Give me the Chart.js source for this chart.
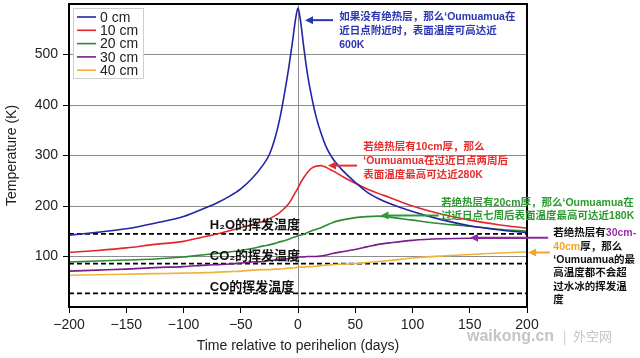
<!DOCTYPE html>
<html>
<head>
<meta charset="utf-8">
<script src="https://cdn.jsdelivr.net/npm/chart.js@4"></script>
<style>
  body { margin: 0; background: #fff; }
  canvas { display: block; }
</style>
</head>
<body>
<canvas id="tempChart" width="640" height="358"></canvas>
<script>
// data
const days = [-200, -175, -150, -125, -100, -80, -70, -60, -50, -40, -30, -25, -20, -16, -12, -8, -5, -2, 0, 2, 5, 8, 12, 16, 20, 25, 30, 40, 50, 60, 70, 80, 100, 125, 150, 175, 200];
const temp0cm = [142, 148, 155, 166, 179, 197, 207, 219, 234, 255, 283, 302, 335, 372, 420, 475, 522, 572, 592, 570, 515, 465, 415, 375, 345, 315, 295, 268, 247, 228, 215, 205, 189, 173, 161, 153, 147];
const temp10cm = [108, 112, 117, 124, 130, 140, 145, 151, 157, 163, 170, 175, 181, 187, 195, 205, 216, 228, 236, 245, 256, 266, 275, 279, 280, 276, 270, 257, 245, 234, 225, 217, 200, 184, 172, 163, 156];
const temp20cm = [89, 91, 93, 95, 99, 104, 106, 109, 112, 116, 121, 123, 126, 129, 131, 134, 137, 139, 141, 142, 144, 147, 151, 154, 157, 162, 167, 173, 177, 179, 180, 178, 172, 165, 160, 154, 150];
const temp30cm = [71, 73, 75, 78, 80, 83, 84, 85, 87, 89, 90, 92, 93, 94, 95, 96, 97, 98, 99, 99, 99, 100, 100, 100, 101, 103, 106, 110, 114, 119, 124, 127, 132, 135, 136, 136, 136];
const temp40cm = [63, 64, 65, 66, 67, 68, 69, 70, 71, 73, 74, 74, 75, 75, 76, 77, 77, 78, 79, 79, 79, 80, 80, 81, 82, 83, 84, 85, 86, 88, 90, 92, 97, 101, 104, 107, 109];
const seriesLabels = ["0 cm", "10 cm", "20 cm", "30 cm", "40 cm"];
const seriesColors = ["#2323a6", "#e3262b", "#2f8a34", "#7a1d8c", "#f0b23a"];
const volatileNames = ["H₂O的挥发温度", "CO₂的挥发温度", "CO的挥发温度"];
const volatileTemps = [145, 86, 27];
const xRange = [-200, 200];
const xTicks = [-200, -150, -100, -50, 0, 50, 100, 150, 200];
const yTicks = [100, 200, 300, 400, 500];

const NOTE_FONT = 'bold 10.5px "Liberation Sans", "Noto Sans CJK SC", sans-serif';
Chart.defaults.font.family = '"Liberation Sans", Arial, sans-serif';
Chart.defaults.color = "#222";

const allSeries = [temp0cm, temp10cm, temp20cm, temp30cm, temp40cm];
const curveSets = allSeries.map((vals, i) => ({
  label: seriesLabels[i],
  data: days.map((d, j) => ({ x: d, y: vals[j] })),
  borderColor: seriesColors[i],
  borderWidth: 1.6,
  pointRadius: 0,
  fill: false,
  cubicInterpolationMode: "monotone"
}));
const dashSets = volatileTemps.map((t, i) => ({
  label: volatileNames[i],
  data: xRange.map(d => ({ x: d, y: t })),
  borderColor: "#000",
  borderWidth: 1.8,
  borderDash: [5, 3],
  pointRadius: 0
}));

// callouts, in data units
const notes = [
  { x: 36, y: 574, lh: 14, lines: [
    [["如果没有绝热层，那么‘Oumuamua在", "#2b35b0"]],
    [["近日点附近时，表面温度可高达近", "#2b35b0"]],
    [["600K", "#2b35b0"]]] },
  { x: 57, y: 316, lh: 14, lines: [
    [["若绝热层有10cm厚，那么", "#e2302f"]],
    [["‘Oumuamua在过近日点两周后", "#e2302f"]],
    [["表面温度最高可达近280K", "#e2302f"]]] },
  { x: 125, y: 205, lh: 12.5, lines: [
    [["若绝热层有20cm厚，那么‘Oumuamua在", "#2c9a30"]],
    [["过近日点七周后表面温度最高可达近180K", "#2c9a30"]]] },
  { x: 223, y: 146, lh: 13.4, lines: [
    [["若绝热层有", "#111"], ["30cm-", "#9a30a8"]],
    [["40cm", "#f0a528"], ["厚，那么", "#111"]],
    [["‘Oumuamua的最", "#111"]],
    [["高温度都不会超", "#111"]],
    [["过水冰的挥发温", "#111"]],
    [["度", "#111"]]] }
];
const arrows = [
  { from: [30.6, 568], to: [6.1, 568], color: "#2b35b0" },
  { from: [51.6, 280], to: [26.2, 280], color: "#e2302f" },
  { from: [123, 181], to: [72, 181], color: "#2c9a30" },
  { from: [218.5, 137], to: [150.3, 137], color: "#8a2a9c" },
  { from: [220, 108], to: [201, 108], color: "#f0a528" }
];

function drawArrow(ctx, x1, y1, x2, y2, color) {
  ctx.strokeStyle = color;
  ctx.fillStyle = color;
  ctx.lineWidth = 2;
  ctx.beginPath();
  ctx.moveTo(x1, y1);
  ctx.lineTo(x2 + 6, y2);
  ctx.stroke();
  ctx.beginPath();
  ctx.moveTo(x2, y2);
  ctx.lineTo(x2 + 8, y2 - 4);
  ctx.lineTo(x2 + 8, y2 + 4);
  ctx.closePath();
  ctx.fill();
}

const decorations = {
  id: "decorations",
  afterDraw(chart) {
    const { ctx, chartArea: a, scales: { x, y } } = chart;
    ctx.save();

    // frame
    ctx.strokeStyle = "#000";
    ctx.lineWidth = 2;
    ctx.strokeRect(a.left, a.top, a.right - a.left, a.bottom - a.top);

    // legend box
    const lx = a.left + 4, ly = a.top + 4;
    ctx.fillStyle = "#fff";
    ctx.fillRect(lx, ly, 70, 70);
    ctx.strokeStyle = "#cfcfcf";
    ctx.lineWidth = 1;
    ctx.strokeRect(lx + 0.5, ly + 0.5, 70, 70);
    ctx.font = '14px "Liberation Sans", Arial, sans-serif';
    ctx.textBaseline = "middle";
    seriesLabels.forEach((lab, i) => {
      const ry = ly + 9 + i * 13.3;
      ctx.strokeStyle = seriesColors[i];
      ctx.lineWidth = 1.6;
      ctx.beginPath();
      ctx.moveTo(lx + 4, ry);
      ctx.lineTo(lx + 23, ry);
      ctx.stroke();
      ctx.fillStyle = "#222";
      ctx.fillText(lab, lx + 27, ry + 1);
    });

    // volatile labels
    ctx.font = 'bold 13px "Liberation Sans", "Noto Sans CJK SC", sans-serif';
    ctx.fillStyle = "#111";
    const labelY = [162, 100.6, 39.4];
    volatileNames.forEach((n, i) => {
      ctx.fillText(n, x.getPixelForValue(-77), y.getPixelForValue(labelY[i]));
    });

    // callout texts
    ctx.font = NOTE_FONT;
    notes.forEach(note => {
      const nx = x.getPixelForValue(note.x);
      const ny = y.getPixelForValue(note.y);
      note.lines.forEach((parts, li) => {
        let cx = nx;
        parts.forEach(([txt, col]) => {
          ctx.fillStyle = col;
          ctx.fillText(txt, cx, ny + li * note.lh);
          cx += ctx.measureText(txt).width;
        });
      });
    });

    arrows.forEach(ar => {
      drawArrow(ctx,
        x.getPixelForValue(ar.from[0]), y.getPixelForValue(ar.from[1]),
        x.getPixelForValue(ar.to[0]), y.getPixelForValue(ar.to[1]), ar.color);
    });

    // watermark
    ctx.fillStyle = "#c4c4c4";
    ctx.font = 'bold 16px "Liberation Sans", Arial, sans-serif';
    ctx.fillText("waikong.cn", 467, 337);
    ctx.font = '13px "Noto Sans CJK SC", sans-serif';
    ctx.fillText("|", 563, 337);
    ctx.fillText("外空网", 573, 336);

    ctx.restore();
  }
};

new Chart(document.getElementById("tempChart"), {
  type: "line",
  data: { datasets: [...curveSets, ...dashSets] },
  options: {
    responsive: false,
    animation: false,
    devicePixelRatio: 1,
    layout: { padding: { top: 4, right: 113, bottom: 0, left: 0 } },
    plugins: { legend: { display: false }, tooltip: { enabled: false } },
    scales: {
      x: {
        type: "linear",
        min: xRange[0],
        max: xRange[1],
        afterFit: s => { s.height = 51; },
        afterBuildTicks: s => { s.ticks = xTicks.map(v => ({ value: v })); },
        ticks: {
          padding: 4,
          font: { size: 14 },
          color: "#222",
          maxRotation: 0,
          callback: v => (v < 0 ? "−" + Math.abs(v) : String(v))
        },
        grid: {
          color: c => (c.tick && c.tick.value === 0 ? "#8c8c8c" : "rgba(0,0,0,0)"),
          tickColor: "#000",
          tickLength: 6,
          lineWidth: 1
        },
        border: { display: false },
        title: {
          display: true,
          text: "Time relative to perihelion (days)",
          font: { size: 14 },
          color: "#222",
          padding: { top: 0, bottom: 3 }
        }
      },
      y: {
        min: 0,
        max: 600,
        afterFit: s => { s.width = 69; s.paddingTop = 0; s.paddingBottom = 0; },
        afterBuildTicks: s => { s.ticks = yTicks.map(v => ({ value: v })); },
        ticks: { padding: 5, font: { size: 14 }, color: "#222" },
        grid: { color: "#8c8c8c", tickColor: "#000", tickLength: 6, lineWidth: 1 },
        border: { display: false },
        title: {
          display: true,
          text: "Temperature (K)",
          font: { size: 14 },
          color: "#222",
          padding: 4
        }
      }
    }
  },
  plugins: [decorations]
});
</script>
</body>
</html>
